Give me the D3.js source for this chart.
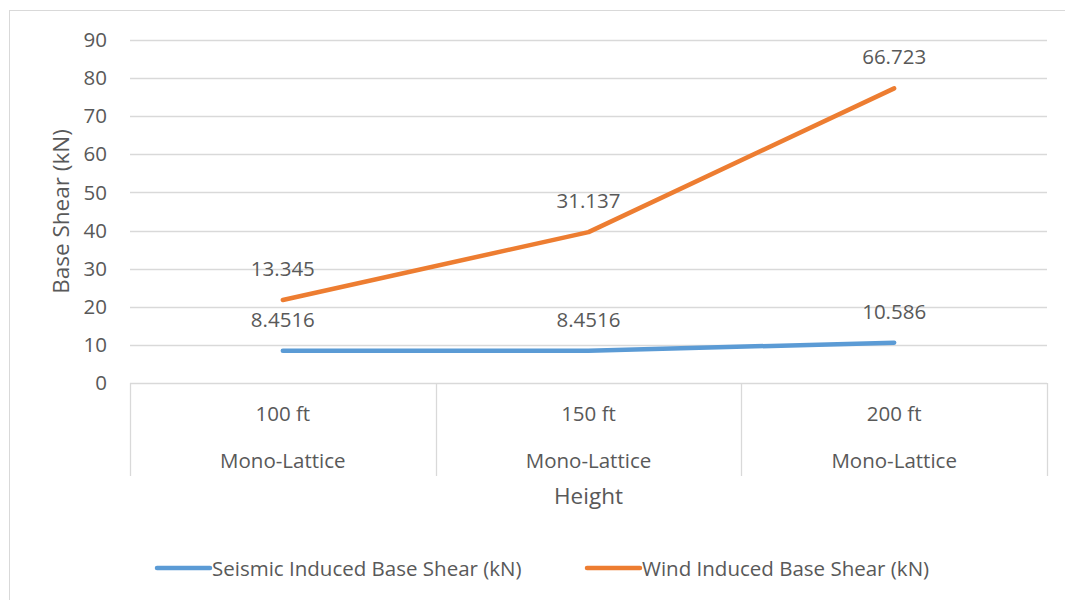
<!DOCTYPE html>
<html>
<head>
<meta charset="utf-8">
<script src="https://cdn.jsdelivr.net/npm/d3@7"></script>
<style>
  html, body { margin: 0; padding: 0; background: #fff; }
  svg text { font-family: "Open Sans", "Segoe UI", sans-serif; fill: #595959; }
</style>
</head>
<body>
<svg id="chart" width="1065" height="600"></svg>
<script>
// Tower heights and structure type (two-level category axis)
const heights = ["100 ft", "150 ft", "200 ft"];
const towerTypes = ["Mono-Lattice", "Mono-Lattice", "Mono-Lattice"];
// Base shear per height (kN)
const seismicShear = [8.4516, 8.4516, 10.586];
const windShear = [13.345, 31.137, 66.723];
const seriesNames = ["Seismic Induced Base Shear (kN)", "Wind Induced Base Shear (kN)"];
const seriesColors = ["#5B9BD5", "#ED7D31"];
const yTicks = [0, 10, 20, 30, 40, 50, 60, 70, 80, 90];

const svg = d3.select("#chart");
const m = { left: 130, right: 1047, top: 40, bottom: 383 };
const FS = "20.5px";

// Chart frame
svg.append("rect")
  .attr("x", 9.5).attr("y", 10.5)
  .attr("width", 1100).attr("height", 700)
  .attr("fill", "none").attr("stroke", "#D9D9D9").attr("stroke-width", 1);

const x = d3.scaleBand().domain(heights).range([m.left, m.right]).paddingInner(0).paddingOuter(0);
const y = d3.scaleLinear().domain([0, 90]).range([m.bottom, m.top]);

// Horizontal gridlines
svg.append("g").selectAll("line").data(yTicks.filter(t => t > 0)).join("line")
  .attr("x1", m.left).attr("x2", m.right)
  .attr("y1", d => Math.round(y(d)) + 0.5).attr("y2", d => Math.round(y(d)) + 0.5)
  .attr("stroke", "#D9D9D9").attr("stroke-width", 1.3);

// Y axis tick labels
const yAxis = d3.axisLeft(y).tickValues(yTicks).tickSize(0).tickPadding(23);
const yg = svg.append("g").attr("transform", `translate(${m.left},0)`).call(yAxis);
yg.select(".domain").remove();
yg.selectAll("text").style("font-size", FS).attr("fill", "#595959")
  .style("font-family", '"Open Sans", sans-serif');

// Category axis baseline and separators
svg.append("line")
  .attr("x1", m.left).attr("x2", m.right)
  .attr("y1", m.bottom + 0.5).attr("y2", m.bottom + 0.5)
  .attr("stroke", "#D9D9D9").attr("stroke-width", 1.3);
const bounds = heights.map(h => x(h)).concat([x(heights[heights.length - 1]) + x.bandwidth()]);
svg.append("g").selectAll("line").data(bounds).join("line")
  .attr("x1", d => Math.round(d) + 0.5).attr("x2", d => Math.round(d) + 0.5)
  .attr("y1", m.bottom).attr("y2", 476)
  .attr("stroke", "#D9D9D9").attr("stroke-width", 1.3);

const cx = h => x(h) + x.bandwidth() / 2;
svg.append("g").selectAll("text").data(heights).join("text")
  .attr("x", d => cx(d)).attr("y", 421)
  .attr("text-anchor", "middle").style("font-size", FS)
  .text(d => d);
svg.append("g").selectAll("text").data(heights).join("text")
  .attr("x", d => cx(d)).attr("y", 468)
  .attr("text-anchor", "middle").style("font-size", FS)
  .text((d, i) => towerTypes[i]);

// Axis titles
svg.append("text")
  .attr("x", (m.left + m.right) / 2).attr("y", 504)
  .attr("text-anchor", "middle").style("font-size", "22.5px")
  .text("Height");
svg.append("text")
  .attr("transform", `translate(69,${(m.top + m.bottom) / 2}) rotate(-90)`)
  .attr("text-anchor", "middle").style("font-size", "22.5px")
  .text("Base Shear (kN)");

// Stacked line series
const rows = heights.map((h, i) => ({ h, seismic: seismicShear[i], wind: windShear[i] }));
const stacked = d3.stack().keys(["seismic", "wind"])(rows);

const line = d3.line()
  .x(d => cx(d.data.h))
  .y(d => y(d[1]));

svg.append("g").selectAll("path").data(stacked).join("path")
  .attr("d", line)
  .attr("fill", "none")
  .attr("stroke", (d, i) => seriesColors[i])
  .attr("stroke-width", 4.5)
  .attr("stroke-linecap", "round")
  .attr("stroke-linejoin", "round");

// Data labels show each series' own value above its point
stacked.forEach(s => {
  svg.append("g").selectAll("text").data(s).join("text")
    .attr("x", d => cx(d.data.h))
    .attr("y", d => y(d[1]) - 24)
    .attr("text-anchor", "middle").style("font-size", FS)
    .attr("fill", "#404040")
    .text(d => d.data[s.key]);
});

// Legend
const legendItems = [
  { name: seriesNames[0], color: seriesColors[0], x0: 157 },
  { name: seriesNames[1], color: seriesColors[1], x0: 587 }
];
const lg = svg.append("g").selectAll("g").data(legendItems).join("g");
lg.append("line")
  .attr("x1", d => d.x0).attr("x2", d => d.x0 + 53)
  .attr("y1", 568).attr("y2", 568)
  .attr("stroke", d => d.color).attr("stroke-width", 4.5)
  .attr("stroke-linecap", "round");
lg.append("text")
  .attr("x", d => d.x0 + 55).attr("y", 576)
  .style("font-size", FS)
  .text(d => d.name);
</script>
</body>
</html>
